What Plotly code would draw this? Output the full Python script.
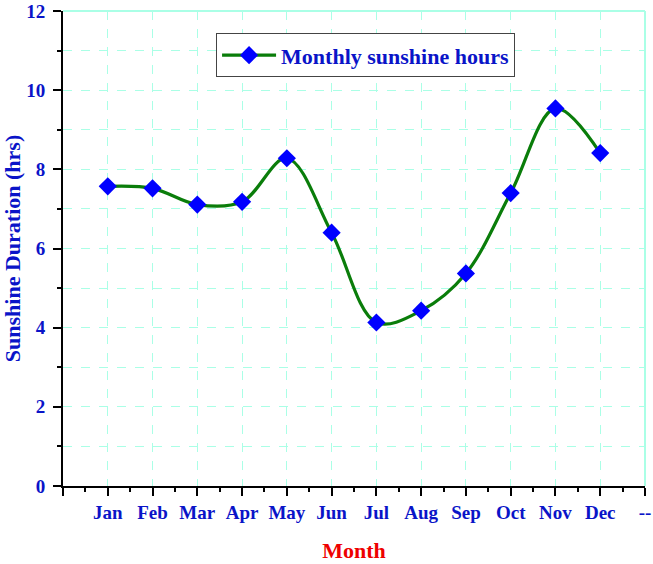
import plotly.graph_objects as go

months = ["Jan", "Feb", "Mar", "Apr", "May", "Jun", "Jul", "Aug", "Sep", "Oct", "Nov", "Dec"]
sunshine = [7.57, 7.52, 7.11, 7.18, 8.28, 6.40, 4.13, 4.43, 5.37, 7.40, 9.54, 8.41]
x_ticktext = [""] + months + ["--"]

xpos = list(range(1, len(months) + 1))

FONT = "Liberation Serif, Times New Roman, serif"
BLUE = "#0a14c8"
GRID = "rgb(170,255,230)"

fig = go.Figure()
fig.add_trace(go.Scatter(
    x=xpos, y=sunshine, mode="lines+markers",
    name="<b>Monthly sunshine hours</b>",
    line=dict(color="#0a7d0a", width=3.2, shape="spline", smoothing=1.0),
    marker=dict(symbol="diamond", size=14, color="#0000ff", line=dict(width=0)),
))

fig.update_layout(
    width=653, height=564,
    margin=dict(l=63, r=8, t=11, b=78, autoexpand=False),
    paper_bgcolor="white", plot_bgcolor="white",
    font=dict(family=FONT),
    showlegend=True,
    legend=dict(
        x=0.263, y=0.953, xanchor="left", yanchor="top",
        bgcolor="white", bordercolor="#444444", borderwidth=1,
        font=dict(family=FONT, size=22, color=BLUE, weight="bold"),
        itemwidth=54,
    ),
    xaxis=dict(
        range=[0, 13], tickmode="array", automargin=False,
        tickvals=list(range(0, len(x_ticktext))), ticktext=x_ticktext,
        showline=True, linecolor="black", linewidth=2,
        ticks="outside", ticklen=8, tickwidth=2, tickcolor="black",
        ticklabelstandoff=0,
        tickfont=dict(family=FONT, size=19, color=BLUE, weight="bold"),
        showgrid=True, gridcolor=GRID, griddash="dash", gridwidth=1,
        zeroline=False,
        minor=dict(tick0=0.5, dtick=1, ticks="outside", ticklen=4, tickwidth=2,
                   tickcolor="black", showgrid=False),
        title=dict(text="Month", standoff=21,
                   font=dict(family=FONT, size=22, color="#ee0000", weight="bold")),
    ),
    yaxis=dict(
        range=[0, 12], tickmode="linear", tick0=0, dtick=2, automargin=False,
        showline=True, linecolor="black", linewidth=2,
        ticks="outside", ticklen=8, tickwidth=2, tickcolor="black",
        ticklabelstandoff=4,
        tickfont=dict(family=FONT, size=19, color=BLUE, weight="bold"),
        showgrid=True, gridcolor=GRID, griddash="dash", gridwidth=1,
        zeroline=False,
        minor=dict(dtick=1, ticks="outside", ticklen=4, tickwidth=2,
                   tickcolor="black", showgrid=True, gridcolor=GRID,
                   griddash="dash", gridwidth=1),
        title=dict(text="Sunshine Duration (hrs)", standoff=8,
                   font=dict(family=FONT, size=22, color=BLUE, weight="bold")),
    ),
    shapes=[
        dict(type="line", xref="paper", yref="paper", x0=0, x1=1, y0=1, y1=1,
             line=dict(color=GRID, width=2)),
        dict(type="line", xref="paper", yref="paper", x0=1, x1=1, y0=0, y1=1,
             line=dict(color=GRID, width=2)),
    ],
)

fig.write_html("out.html", config={"displayModeBar": False},
               post_script="document.body.style.margin='0px';")
